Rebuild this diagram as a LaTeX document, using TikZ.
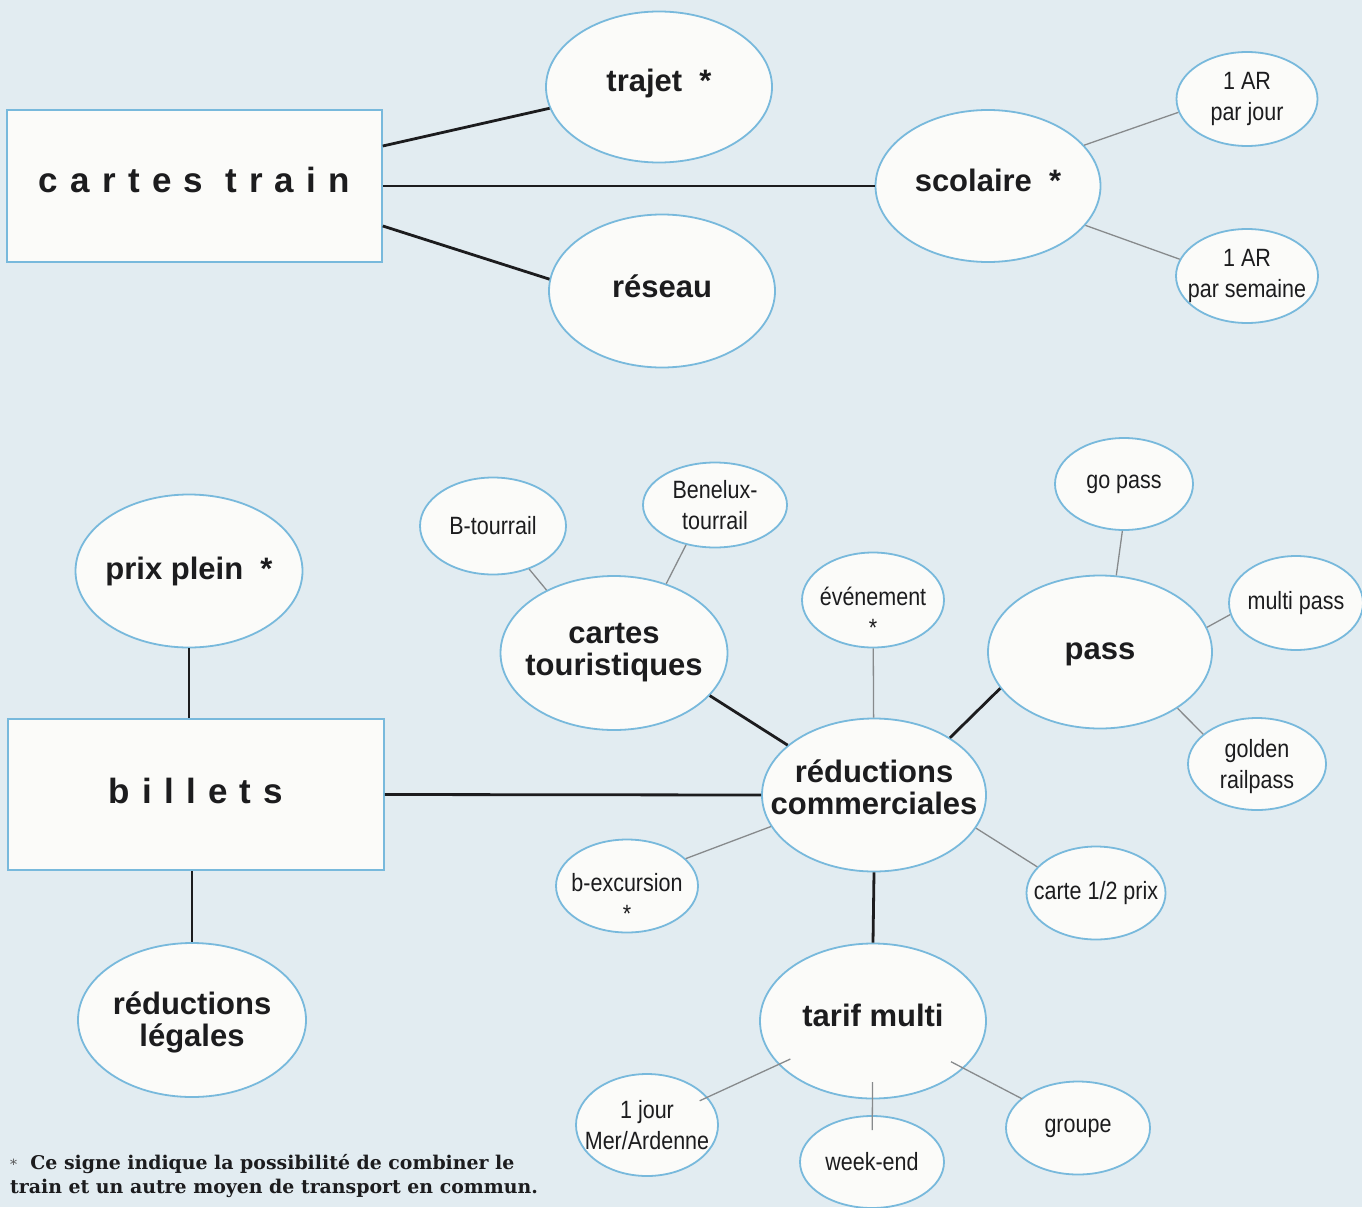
\documentclass[tikz,border=0pt]{standalone}
\usepackage{fontspec}
\setmainfont{Liberation Sans}
\newfontfamily\narrowfont{Liberation Sans}[FakeStretch=0.86]
\newfontfamily\spacedfont{Liberation Sans}[LetterSpace=35]
\newfontfamily\notefont{DejaVu Serif}
\usetikzlibrary{shapes.geometric}
\definecolor{bg}{RGB}{226,236,241}
\definecolor{elfill}{RGB}{251,251,249}
\definecolor{bord}{RGB}{120,185,220}
\definecolor{ink}{RGB}{28,28,30}
\definecolor{thinc}{RGB}{135,138,140}
\begin{document}
\begin{tikzpicture}[x=1pt,y=-1pt,
 el/.style 2 args={ellipse, draw=bord, fill=elfill, line width=1.8pt, minimum width=#1, minimum height=#2, inner sep=0pt},
 rectbox/.style 2 args={rectangle, draw=bord, fill=elfill, line width=1.6pt, minimum width=#1, minimum height=#2, inner sep=0pt},
 bigtxt/.style={text=ink, font=\fontsize{31}{32}\selectfont\bfseries, align=center, inner sep=0pt},
 smalltxt/.style={text=ink, font=\narrowfont\fontsize{25}{31}\selectfont, align=center, inner sep=0pt},
 titletxt/.style={text=ink, font=\spacedfont\fontsize{35}{40}\selectfont\bfseries, inner sep=0pt},
 mainline/.style={draw=ink, line width=2.8pt},
 subline/.style={draw=thinc, line width=1.3pt},
]
\fill[bg] (0,0) rectangle (1362,1207);
\useasboundingbox (0,0) rectangle (1362,1207);

% top part
\node[rectbox={375pt}{152pt}, label={[titletxt, yshift=6pt]center:cartes train}] (ct) at (194.5,186) {};
\node[el={226pt}{151pt}, label={[bigtxt, yshift=4pt]center:trajet~~*}] (tra) at (659,87) {};
\node[el={226pt}{153pt}, label={[bigtxt, yshift=5pt]center:réseau}] (res) at (662,291) {};
\node[el={225pt}{152pt}, label={[bigtxt, yshift=6pt]center:scolaire~~*}] (sco) at (988,186) {};
\node[el={141pt}{94pt}, label={[smalltxt]center:1 AR\\par jour}] (jour) at (1247,99) {};
\node[el={142pt}{94pt}, label={[smalltxt]center:1 AR\\par semaine}] (sem) at (1247,276) {};

% bottom part
\node[el={227pt}{153pt}, label={[bigtxt]center:prix plein~~*}] (pp) at (189,571) {};
\node[rectbox={376pt}{151pt}, label={[titletxt, yshift=4pt]center:billets}] (bil) at (196,794.5) {};
\node[el={228pt}{154pt}, label={[bigtxt, yshift=-2pt]center:réductions\\légales}] (leg) at (192,1020) {};
\node[el={224pt}{153pt}, label={[bigtxt, yshift=8pt]center:réductions\\commerciales}] (rc) at (874,795) {};
\node[el={227pt}{154pt}, label={[bigtxt]center:cartes\\touristiques}] (ctour) at (614,653) {};
\node[el={224pt}{153pt}, label={[bigtxt, yshift=-2pt]center:pass}] (pass) at (1100,652) {};
\node[el={226pt}{155pt}, label={[bigtxt, yshift=6pt]center:tarif multi}] (tm) at (873,1021) {};
\node[el={146pt}{97pt}, label={[smalltxt]center:B-tourrail}] (bt) at (493,526) {};
\node[el={144pt}{85pt}, label={[smalltxt]center:Benelux-\\tourrail}] (bnx) at (715,505) {};
\node[el={142pt}{95pt}, label={[smalltxt, yshift=-12pt]center:événement\\*}] (evt) at (873,600) {};
\node[el={138pt}{92pt}, label={[smalltxt]center:go pass}] (gp) at (1124,484) {};
\node[el={134pt}{94pt}, label={[smalltxt]center:multi pass}] (mp) at (1296,603) {};
\node[el={138pt}{92pt}, label={[smalltxt, yshift=-3pt]center:golden\\railpass}] (gold) at (1257,764) {};
\node[el={142pt}{93pt}, label={[smalltxt, yshift=-12pt]center:b-excursion\\*}] (bex) at (627,886) {};
\node[el={139pt}{93pt}, label={[smalltxt]center:carte 1/2 prix}] (demi) at (1096,893) {};
\node[el={142pt}{102pt}, label={[smalltxt]center:1 jour\\Mer/Ardenne}] (jour1) at (647,1125) {};
\node[el={144pt}{92pt}, label={[smalltxt]center:week-end}] (we) at (872,1162) {};
\node[el={144pt}{93pt}, label={[smalltxt]center:groupe}] (grp) at (1078,1128) {};

% connectors top
\draw[mainline] ([yshift=40pt]ct.east) -- (tra.191.7);
\draw[mainline] (ct.east) -- (sco.west);
\draw[mainline] ([yshift=-40pt]ct.east) -- (res.174);
\draw[subline] (sco.23.5) -- (jour.191);
\draw[subline] (sco.338) -- (sem.166);

% connectors bottom
\draw[mainline] (pp.south) -- (pp.south |- bil.north);
\draw[mainline] (leg.north |- bil.south) -- (leg.north);
\draw[mainline] (bil.east) -- (rc.west);
\draw[mainline] (ctour.336) -- (rc.150);
\draw[mainline] (pass.200) -- (rc.37);
\draw[mainline] (rc.south) -- (tm.north);
\draw[subline] (bt.310) -- (ctour.137.6);
\draw[subline] (bnx.234.7) -- (ctour.53.5);
\draw[subline] (evt) -- (rc);
\draw[subline] (gp.268) -- (pass.78);
\draw[subline] (mp.190) -- (pass.13.4);
\draw[subline] (gold.151.5) -- (pass.324.5);
\draw[subline] (bex.25) -- (rc.197.6);
\draw[subline] (demi.156) -- (rc.342);
\draw[subline, shorten <=91pt, shorten >=58pt] (tm.center) -- (jour1.center);
\draw[subline, shorten <=61pt, shorten >=32pt] (tm.center) -- (we.center);
\draw[subline, shorten <=88pt, shorten >=63pt] (tm.center) -- (grp.center);

% footnote
\node[anchor=north west, align=left, inner sep=0pt, text=ink, font=\notefont\bfseries\fontsize{18.9}{24.5}\selectfont] (note) at (10,1154)
 {{\fontsize{14}{24}\selectfont\mdseries\color{ink!75}*}~~Ce signe indique la possibilité de combiner le\\train et un autre moyen de transport en commun.};
\end{tikzpicture}
\end{document}
